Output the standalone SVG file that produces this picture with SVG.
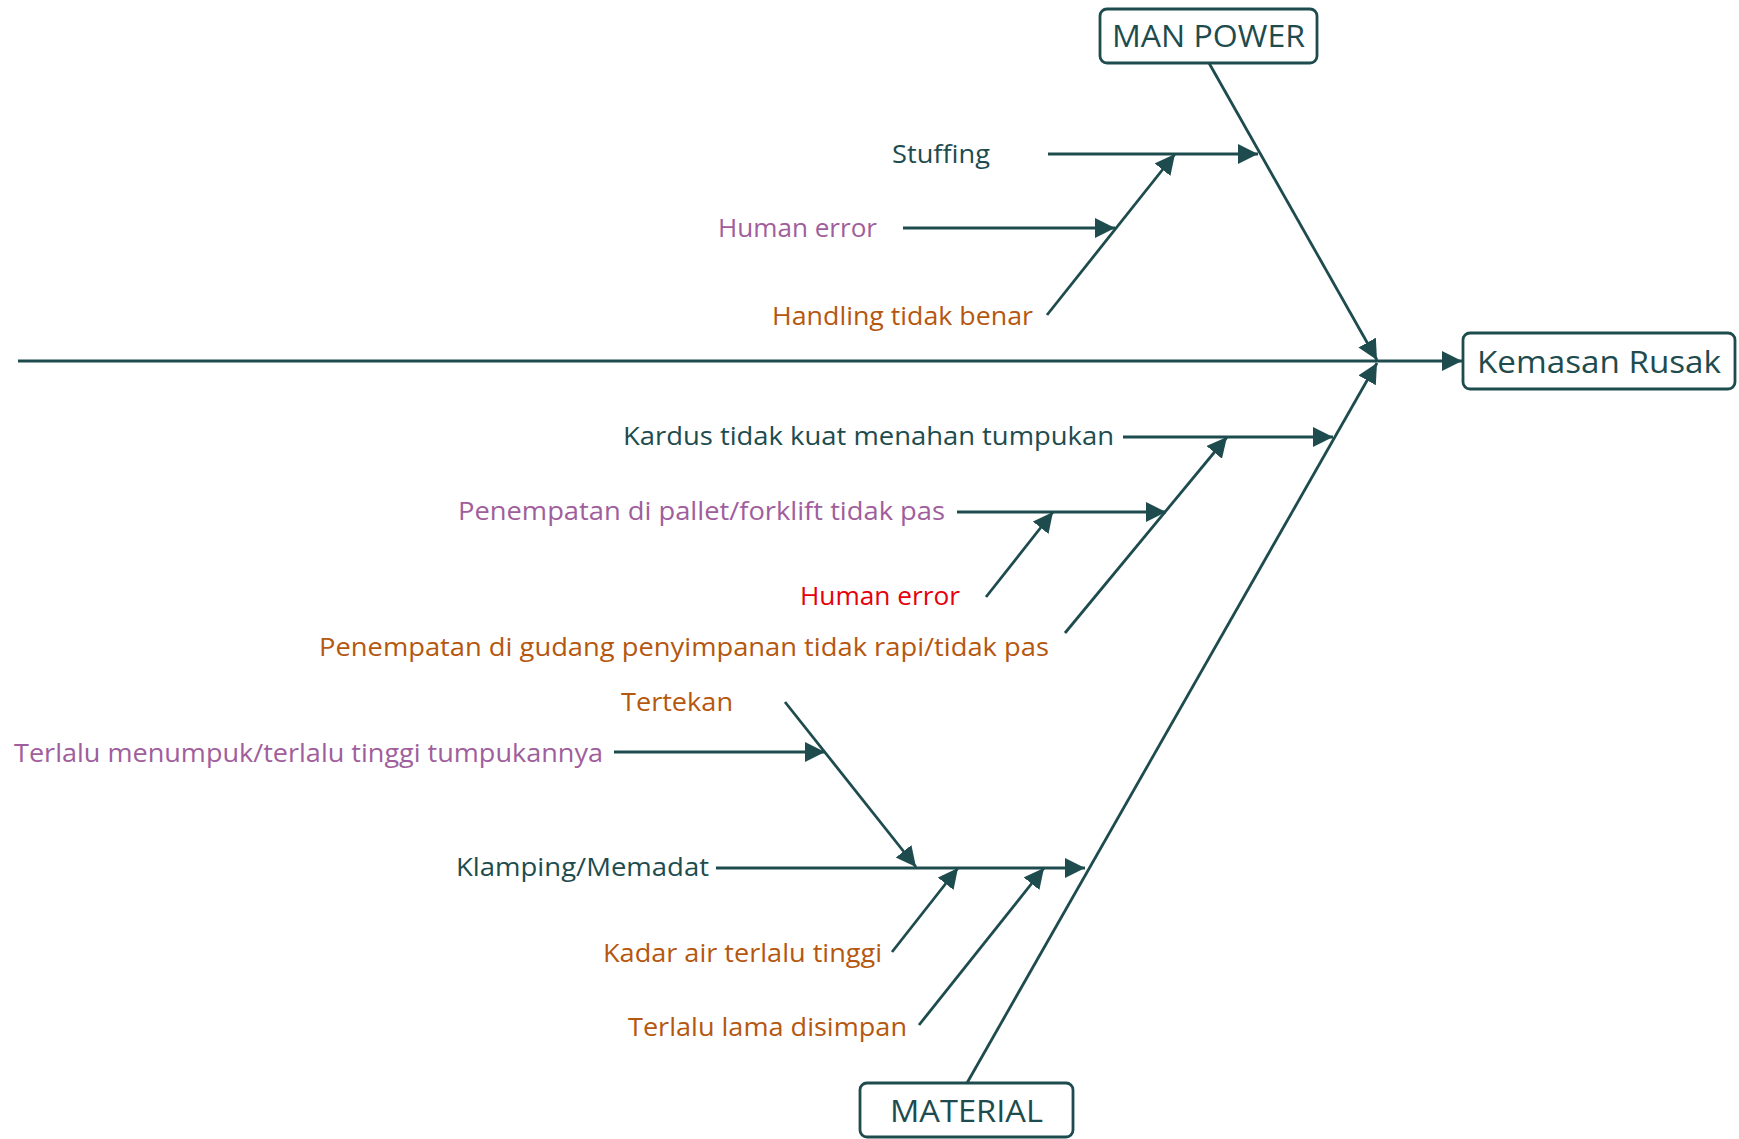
<svg xmlns="http://www.w3.org/2000/svg" width="1739" height="1139" viewBox="0 0 1739 1139">
  <style>
    text { font-family: "Open Sans", "Liberation Sans", sans-serif; font-size: 26px; }
    .teal { fill: #1e4c4e; }
    .purple { fill: #a05e9c; }
    .orange { fill: #b5570f; }
    .red { fill: #e5000a; }
    .box { fill: #ffffff; stroke: #1e4c4e; stroke-width: 2.8; }
    .head { font-size: 31px; }
    .line { stroke: #1e4c4e; stroke-width: 2.8; fill: none; }
    .arrow { marker-end: url(#ah); }
  </style>
  <defs>
    <!-- filled triangular arrowhead shared by every connector -->
    <marker id="ah" markerUnits="userSpaceOnUse" markerWidth="22" markerHeight="22" refX="20" refY="10" orient="auto">
      <path d="M0,0 L20,10 L0,20 z" fill="#1e4c4e"/>
    </marker>
  </defs>
  <rect width="1739" height="1139" fill="#ffffff"/>

  <!-- connectors -->
  <g id="connectors">
    <!-- spine -->
    <line class="line arrow" x1="18" y1="361" x2="1462" y2="361"/>
    <!-- main bones -->
    <line class="line arrow" x1="1209" y1="63" x2="1377" y2="360"/>
    <line class="line arrow" x1="967" y1="1083" x2="1377" y2="363"/>
    <!-- man power causes -->
    <line class="line arrow" x1="1048" y1="154" x2="1258" y2="154"/>
    <line class="line arrow" x1="903" y1="228" x2="1115" y2="228"/>
    <line class="line arrow" x1="1047" y1="315" x2="1175" y2="154"/>
    <!-- material causes -->
    <line class="line arrow" x1="1123" y1="437" x2="1333" y2="437"/>
    <line class="line arrow" x1="957" y1="512" x2="1166" y2="512"/>
    <line class="line arrow" x1="986" y1="597" x2="1053" y2="512"/>
    <line class="line arrow" x1="1065" y1="633" x2="1227" y2="437"/>
    <line class="line arrow" x1="614" y1="752" x2="825" y2="752"/>
    <line class="line arrow" x1="785" y1="702" x2="916" y2="867"/>
    <line class="line arrow" x1="716" y1="868" x2="1085" y2="868"/>
    <line class="line arrow" x1="892" y1="952" x2="958" y2="868"/>
    <line class="line arrow" x1="919" y1="1025" x2="1044" y2="868"/>
  </g>

  <!-- category and effect boxes -->
  <g id="man-power">
    <rect class="box" x="1100" y="9" width="217" height="54" rx="7"/>
    <text class="teal head" x="1112" y="47" textLength="193" lengthAdjust="spacingAndGlyphs">MAN POWER</text>
  </g>
  <g id="material">
    <rect class="box" x="860" y="1083" width="213" height="54" rx="7"/>
    <text class="teal head" x="890" y="1122" textLength="153" lengthAdjust="spacingAndGlyphs">MATERIAL</text>
  </g>
  <g id="kemasan-rusak">
    <rect class="box" x="1463" y="333" width="272" height="56" rx="7"/>
    <text class="teal head" x="1477" y="373" font-size="33" textLength="244" lengthAdjust="spacingAndGlyphs">Kemasan Rusak</text>
  </g>

  <!-- cause labels -->
  <g id="stuffing"><text class="teal" x="892" y="163" textLength="98" lengthAdjust="spacingAndGlyphs">Stuffing</text></g>
  <g id="human-error-1"><text class="purple" x="718" y="237" textLength="159" lengthAdjust="spacingAndGlyphs">Human error</text></g>
  <g id="handling"><text class="orange" x="772" y="325" textLength="261" lengthAdjust="spacingAndGlyphs">Handling tidak benar</text></g>
  <g id="kardus"><text class="teal" x="623" y="445" textLength="491" lengthAdjust="spacingAndGlyphs">Kardus tidak kuat menahan tumpukan</text></g>
  <g id="pallet"><text class="purple" x="458" y="520" textLength="487" lengthAdjust="spacingAndGlyphs">Penempatan di pallet/forklift tidak pas</text></g>
  <g id="human-error-2"><text class="red" x="800" y="605" textLength="160" lengthAdjust="spacingAndGlyphs">Human error</text></g>
  <g id="gudang"><text class="orange" x="319" y="656" textLength="730" lengthAdjust="spacingAndGlyphs">Penempatan di gudang penyimpanan tidak rapi/tidak pas</text></g>
  <g id="tertekan"><text class="orange" x="621" y="711" textLength="112" lengthAdjust="spacingAndGlyphs">Tertekan</text></g>
  <g id="menumpuk"><text class="purple" x="14" y="762" textLength="589" lengthAdjust="spacingAndGlyphs">Terlalu menumpuk/terlalu tinggi tumpukannya</text></g>
  <g id="klamping"><text class="teal" x="456" y="876" textLength="253" lengthAdjust="spacingAndGlyphs">Klamping/Memadat</text></g>
  <g id="kadar-air"><text class="orange" x="603" y="962" textLength="279" lengthAdjust="spacingAndGlyphs">Kadar air terlalu tinggi</text></g>
  <g id="lama-disimpan"><text class="orange" x="628" y="1036" textLength="279" lengthAdjust="spacingAndGlyphs">Terlalu lama disimpan</text></g>
</svg>
